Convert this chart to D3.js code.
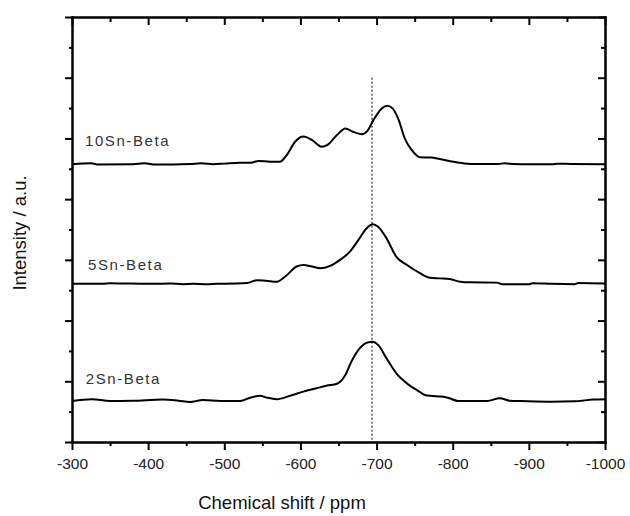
<!DOCTYPE html>
<html lang="en">
<head>
<meta charset="UTF-8" />
<title>Sn-Beta NMR spectra</title>
<style>
  body {
    margin: 0;
    background: #fff;
    font-family: "Liberation Sans", Arial, sans-serif;
  }
  .axis path, .axis line {
    stroke: #000;
    stroke-width: 2px;
  }
  .axis text {
    font-size: 15.5px;
    fill: #222;
    font-family: "Liberation Sans", Arial, sans-serif;
  }
  .spectrum {
    fill: none;
    stroke: #000;
    stroke-width: 2px;
    stroke-linejoin: round;
  }
  .series-label {
    font-size: 15px;
    fill: #333;
    letter-spacing: 1.6px;
  }
  .axis-title {
    font-size: 18.5px;
    fill: #111;
  }
</style>
</head>
<body>
<svg width="630" height="516"></svg>

<script src="https://cdn.jsdelivr.net/npm/d3@7/dist/d3.min.js"></script>
<script>
// spectra: [ppm, intensity offset in a.u.]
const sn10 = [
  [-300, 9.15], [-325, 9.18], [-335, 9.14], [-380, 9.15], [-395, 9.18], [-410, 9.14],
  [-455, 9.16], [-470, 9.18], [-485, 9.15], [-500, 9.17], [-520, 9.2], [-535, 9.2],
  [-545, 9.26], [-560, 9.23], [-573, 9.23], [-582, 9.45], [-593, 9.89], [-604, 10.06],
  [-615, 9.95], [-628, 9.73], [-635, 9.78], [-648, 10.11], [-659, 10.33], [-669, 10.22],
  [-680, 10.14], [-687, 10.22], [-696, 10.61], [-707, 10.99], [-714, 11.08], [-721, 10.99],
  [-729, 10.61], [-737, 10.0], [-746, 9.62], [-757, 9.38], [-772, 9.37], [-783, 9.32],
  [-801, 9.23], [-814, 9.18], [-823, 9.16], [-860, 9.16], [-868, 9.18], [-880, 9.16],
  [-900, 9.15], [-930, 9.15], [-938, 9.17], [-955, 9.16], [-1000, 9.15]
];
const sn5 = [
  [-300, 5.21], [-340, 5.21], [-350, 5.23], [-370, 5.22], [-400, 5.21], [-430, 5.22],
  [-445, 5.2], [-460, 5.21], [-475, 5.2], [-490, 5.21], [-515, 5.22], [-530, 5.24],
  [-543, 5.33], [-555, 5.31], [-569, 5.28], [-580, 5.45], [-595, 5.78], [-604, 5.83],
  [-615, 5.78], [-626, 5.72], [-639, 5.8], [-652, 6.0], [-665, 6.27], [-676, 6.65],
  [-687, 7.04], [-695, 7.17], [-702, 7.09], [-713, 6.71], [-726, 6.10], [-740, 5.83],
  [-757, 5.56], [-770, 5.41], [-783, 5.39], [-796, 5.37], [-810, 5.28], [-823, 5.26],
  [-858, 5.25], [-865, 5.2], [-900, 5.2], [-905, 5.23], [-930, 5.21], [-960, 5.2],
  [-965, 5.24], [-1000, 5.22]
];
const sn2 = [
  [-300, 1.35], [-326, 1.41], [-350, 1.35], [-380, 1.36], [-420, 1.40], [-440, 1.36],
  [-455, 1.32], [-472, 1.38], [-495, 1.35], [-521, 1.35], [-534, 1.46], [-547, 1.52],
  [-556, 1.46], [-569, 1.41], [-586, 1.52], [-604, 1.66], [-621, 1.77], [-635, 1.86],
  [-648, 1.92], [-659, 2.21], [-667, 2.65], [-678, 3.09], [-688, 3.28], [-695, 3.30],
  [-702, 3.20], [-713, 2.76], [-726, 2.26], [-740, 1.93], [-753, 1.71], [-766, 1.53],
  [-788, 1.49], [-796, 1.44], [-807, 1.35], [-823, 1.35], [-845, 1.35], [-862, 1.44],
  [-875, 1.36], [-890, 1.35], [-930, 1.33], [-960, 1.34], [-985, 1.4], [-1000, 1.41]
];

const seriesNames = ["10Sn-Beta", "5Sn-Beta", "2Sn-Beta"];
// label anchor [ppm, a.u.] for each series
const labelPos = [[-317, 9.75], [-321, 5.67], [-318, 1.91]];

const xMajor = [-300, -400, -500, -600, -700, -800, -900, -1000];
const xMinor = [-350, -450, -550, -650, -750, -850, -950];
const yMajor = [0, 2, 4, 6, 8, 10, 12, 14];
const yMinor = [1, 3, 5, 7, 9, 11, 13];
const refShift = -694;   // dotted reference line
const refTop = 12;

const svg = d3.select("svg");
const margin = { top: 17, right: 25, bottom: 74, left: 72 };
const W = 630 - margin.left - margin.right;
const H = 516 - margin.top - margin.bottom;

const x = d3.scaleLinear().domain([-300, -1000]).range([0, W]);
const y = d3.scaleLinear().domain([0, 14]).range([H, 0]);

const g = svg.append("g").attr("transform", `translate(${margin.left},${margin.top})`);

// axes: minor + major ticks on every side
function addAxis(axisFn, transform, ticks, size, labels) {
  const a = axisFn.tickValues(ticks).tickSizeInner(size).tickSizeOuter(0).tickPadding(8);
  a.tickFormat(labels ? (d => String(d)) : "");
  g.append("g").attr("class", "axis").attr("transform", transform).call(a);
}
addAxis(d3.axisBottom(x), `translate(0,${H})`, xMinor, 4, false);
addAxis(d3.axisBottom(x), `translate(0,${H})`, xMajor, 8, true);
addAxis(d3.axisTop(x), "translate(0,0)", xMinor, -5, false);
addAxis(d3.axisTop(x), "translate(0,0)", xMajor, -8, false);
addAxis(d3.axisLeft(y), "translate(0,0)", yMinor, 3, false);
addAxis(d3.axisLeft(y), "translate(0,0)", yMajor, 7, false);
addAxis(d3.axisRight(y), `translate(${W},0)`, yMinor, -4, false);
addAxis(d3.axisRight(y), `translate(${W},0)`, yMajor, -7, false);
g.selectAll(".axis path.domain").attr("stroke-linecap", "square");

// reference line
g.append("line")
  .attr("x1", x(refShift)).attr("x2", x(refShift))
  .attr("y1", y(refTop)).attr("y2", y(0))
  .attr("stroke", "#000")
  .attr("stroke-width", 1)
  .attr("stroke-dasharray", "2,2");

// spectra
const line = d3.line()
  .x(d => x(d[0]))
  .y(d => y(d[1]))
  .curve(d3.curveMonotoneX);

[sn10, sn5, sn2].forEach(s => {
  g.append("path").datum(s).attr("class", "spectrum").attr("d", line);
});

seriesNames.forEach((name, i) => {
  g.append("text")
    .attr("class", "series-label")
    .attr("x", x(labelPos[i][0]))
    .attr("y", y(labelPos[i][1]))
    .text(name);
});

// titles
svg.append("text")
  .attr("class", "axis-title")
  .attr("x", 282)
  .attr("y", 509)
  .attr("text-anchor", "middle")
  .text("Chemical shift / ppm");

svg.append("text")
  .attr("class", "axis-title")
  .attr("transform", "translate(26,233) rotate(-90)")
  .attr("text-anchor", "middle")
  .text("Intensity / a.u.");
</script>
</body>
</html>
